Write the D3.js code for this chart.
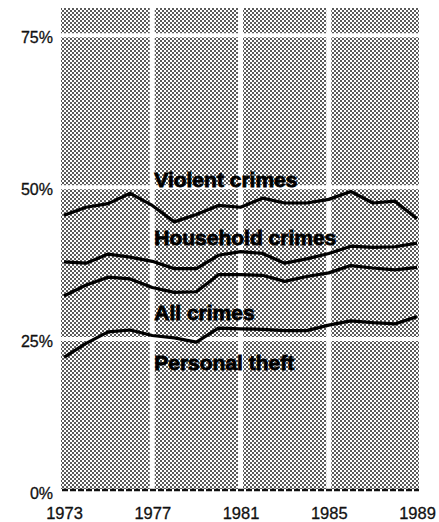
<!DOCTYPE html>
<html>
<head>
<meta charset="utf-8">
<script src="https://cdn.jsdelivr.net/npm/d3@7"></script>
<style>
    body { margin: 0; background: #fff; }
    text { font-family: "Liberation Sans", Arial, sans-serif; }
</style>
</head>
<body>
<div id="chart"></div>
<script>
const years = d3.range(1973, 1990);
const violent = [45.4, 46.7, 47.3, 49.0, 47.0, 44.3, 45.5, 47.0, 46.7, 48.2, 47.4, 47.4, 48.0, 49.3, 47.4, 47.7, 44.8];
const household = [37.7, 37.5, 39.0, 38.5, 37.8, 36.6, 36.6, 38.8, 39.4, 39.1, 37.5, 38.2, 39.1, 40.3, 40.1, 40.2, 40.8];
const allCrimes = [32.1, 33.9, 35.2, 34.9, 33.5, 32.7, 32.8, 35.6, 35.6, 35.5, 34.5, 35.3, 35.9, 37.1, 36.7, 36.4, 36.8];
const theft = [22.0, 24.3, 26.2, 26.5, 25.6, 25.2, 24.5, 26.8, 26.7, 26.6, 26.4, 26.4, 27.3, 28.0, 27.7, 27.5, 28.7];
const seriesNames = ["Violent crimes", "Household crimes", "All crimes", "Personal theft"];
const labelValues = [50.0, 40.5, 28.1, 19.9];
const yTicks = [0, 25, 50, 75];
const xTicks = [1973, 1977, 1981, 1985, 1989];

const width = 439, height = 522;

let svg = d3.select('#chart')
    .append('svg')
    .attr('width', width)
    .attr('height', height);

let xScale = d3.scaleLinear()
    .domain([1973, 1989])
    .range([64, 417]);

let yScale = d3.scaleLinear()
    .domain([0, 79.5])
    .range([491, 8]);

// halftone screen
let pat = svg.append('defs')
    .append('pattern')
    .attr('id', 'dots')
    .attr('patternUnits', 'userSpaceOnUse')
    .attr('width', 4)
    .attr('height', 4);
pat.append('rect').attr('width', 4).attr('height', 4).attr('fill', '#fff');
pat.append('circle').attr('cx', 1).attr('cy', 1).attr('r', 1.0).attr('fill', '#222');
pat.append('circle').attr('cx', 3).attr('cy', 3).attr('r', 1.0).attr('fill', '#222');

svg.append('rect')
    .attr('x', 61)
    .attr('y', yScale(79.5))
    .attr('width', 419 - 61)
    .attr('height', yScale(0) - 2 - yScale(79.5))
    .attr('fill', 'url(#dots)');

// white grid
svg.append('g')
    .selectAll('line')
    .data(yTicks.filter(d => d > 0))
    .join('line')
    .attr('x1', 61)
    .attr('x2', 419)
    .attr('y1', d => yScale(d))
    .attr('y2', d => yScale(d))
    .attr('stroke', '#fff')
    .attr('stroke-width', 4);

svg.append('g')
    .selectAll('line')
    .data(xTicks.slice(1, -1))
    .join('line')
    .attr('x1', d => xScale(d))
    .attr('x2', d => xScale(d))
    .attr('y1', yScale(79.5))
    .attr('y2', yScale(0) - 2)
    .attr('stroke', '#fff')
    .attr('stroke-width', 5);

// dashed zero line
svg.append('line')
    .attr('x1', 62)
    .attr('x2', 419)
    .attr('y1', yScale(0) - 1)
    .attr('y2', yScale(0) - 1)
    .attr('stroke', '#111')
    .attr('stroke-width', 2.5)
    .attr('stroke-dasharray', '6,2');

// axes labels
const yAxis = d3.axisLeft(yScale)
    .tickValues(yTicks)
    .tickFormat(d => d + '%')
    .tickSize(0)
    .tickPadding(8);

let y_labels = svg.append('g')
    .attr('transform', 'translate(61,0)')
    .call(yAxis);
y_labels.select('.domain').remove();
y_labels.selectAll('text')
    .attr('dy', '0.45em')
    .style('font-size', '16px')
    .attr('fill', '#111')
    .attr('stroke', '#111')
    .attr('stroke-width', 0.3);

const xAxis = d3.axisBottom(xScale)
    .tickValues(xTicks)
    .tickFormat(d3.format('d'))
    .tickSize(0)
    .tickPadding(0);

let x_labels = svg.append('g')
    .attr('transform', 'translate(0,' + 507 + ')')
    .call(xAxis);
x_labels.select('.domain').remove();
x_labels.selectAll('text')
    .attr('dy', '0.75em')
    .style('font-size', '16.5px')
    .attr('fill', '#111')
    .attr('stroke', '#111')
    .attr('stroke-width', 0.3);

// lines
const allSeries = [violent, household, allCrimes, theft];
let line = d3.line()
    .x((d, i) => xScale(years[i]))
    .y(d => yScale(d));

svg.append('g')
    .selectAll('path')
    .data(allSeries)
    .join('path')
    .attr('d', line)
    .attr('fill', 'none')
    .attr('stroke', '#000')
    .attr('stroke-width', 3.2)
    .attr('stroke-linejoin', 'round');

// series labels
svg.append('g')
    .selectAll('text')
    .data(seriesNames)
    .join('text')
    .attr('x', xScale(1977) + 2)
    .attr('y', (d, i) => yScale(labelValues[i]))
    .text(d => d)
    .style('font-size', '21px')
    .style('font-weight', 'bold')
    .attr('fill', '#000')
    .attr('stroke', '#000')
    .attr('stroke-width', 0.8);
</script>
</body>
</html>
